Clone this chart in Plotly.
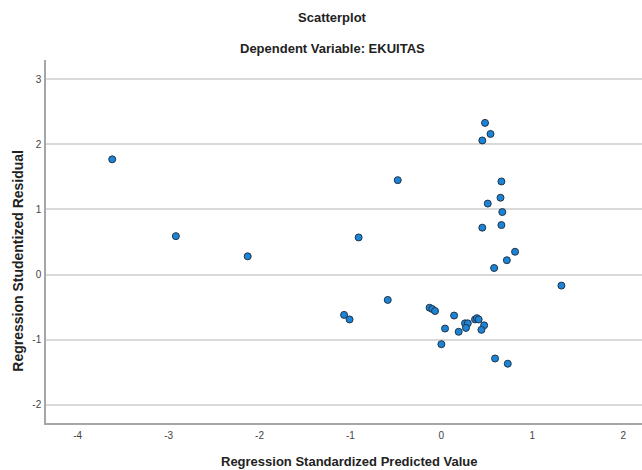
import plotly.graph_objects as go

# Regression Standardized Predicted Value (x) and Studentized Residual (y)
pred = [-3.62, -2.92, -2.13, -0.91, -0.48, -0.59, -1.07, -1.01,
        0.48, 0.54, 0.45, 0.66, 0.65, 0.51, 0.67, 0.45, 0.66, 0.81, 0.72, 0.58,
        -0.13, -0.10, -0.07, 0.14, 0.04, 0.00, 0.19, 0.26, 0.29, 0.27,
        0.37, 0.39, 0.41, 0.47, 0.44, 0.59, 0.73, 1.32]
resid = [1.77, 0.59, 0.28, 0.57, 1.45, -0.39, -0.62, -0.69,
         2.33, 2.16, 2.06, 1.43, 1.18, 1.09, 0.96, 0.72, 0.76, 0.35, 0.22, 0.10,
         -0.51, -0.53, -0.56, -0.63, -0.83, -1.07, -0.88, -0.75, -0.75, -0.82,
         -0.69, -0.67, -0.69, -0.78, -0.85, -1.29, -1.37, -0.17]

x_ticks = [-4, -3, -2, -1, 0, 1, 2]
y_ticks = [-2, -1, 0, 1, 2, 3]

title_main = "Scatterplot"
title_sub = "Dependent Variable: EKUITAS"
x_title = "Regression Standardized Predicted Value"
y_title = "Regression Studentized Residual"

FONT = "Liberation Sans, Arial, sans-serif"

fig = go.Figure()
fig.add_trace(go.Scatter(
    x=pred, y=resid, mode="markers",
    marker=dict(size=7, color="#1b84d6", line=dict(color="#233447", width=1)),
    showlegend=False, hoverinfo="x+y",
))

fig.update_layout(
    width=642, height=470,
    margin=dict(l=46, r=0, t=60, b=47),
    paper_bgcolor="white", plot_bgcolor="white",
    font=dict(family=FONT, color="#333333"),
)
fig.update_xaxes(
    range=[-4.348, 2.206], tickvals=x_ticks, ticktext=[str(v) for v in x_ticks],
    showgrid=False, zeroline=False, showline=True, linecolor="#a6a6a6", linewidth=1.5,
    ticks="", ticklabelstandoff=2, tickfont=dict(size=10, color="#444444"),
)
fig.update_yaxes(
    range=[-2.281, 3.296], tickvals=y_ticks, ticktext=[str(v) for v in y_ticks],
    showgrid=True, gridcolor="#d9d9d9", gridwidth=1.5, zeroline=False,
    showline=True, linecolor="#a6a6a6", linewidth=1.5,
    ticks="", ticklabelstandoff=1, tickfont=dict(size=10, color="#444444"),
)

ann_font = dict(family=FONT, size=13, color="#222222")
fig.add_annotation(text="<b>" + title_main + "</b>", xref="paper", yref="paper",
                   x=0.48, y=1.118, showarrow=False, font=ann_font,
                   xanchor="center", yanchor="middle")
fig.add_annotation(text="<b>" + title_sub + "</b>", xref="paper", yref="paper",
                   x=0.48, y=1.033, showarrow=False, font=ann_font,
                   xanchor="center", yanchor="middle")
fig.add_annotation(text="<b>" + x_title + "</b>", xref="paper", yref="paper",
                   x=0.508, y=-0.1065, showarrow=False, font=ann_font,
                   xanchor="center", yanchor="middle")
fig.add_annotation(text="<b>" + y_title + "</b>", xref="paper", yref="paper",
                   x=-0.047, y=0.447, showarrow=False,
                   font=dict(family=FONT, size=14, color="#222222"), textangle=-90,
                   xanchor="center", yanchor="middle")

fig.write_html("out.html", config={"displayModeBar": False},
               post_script="document.body.style.margin='0';")
